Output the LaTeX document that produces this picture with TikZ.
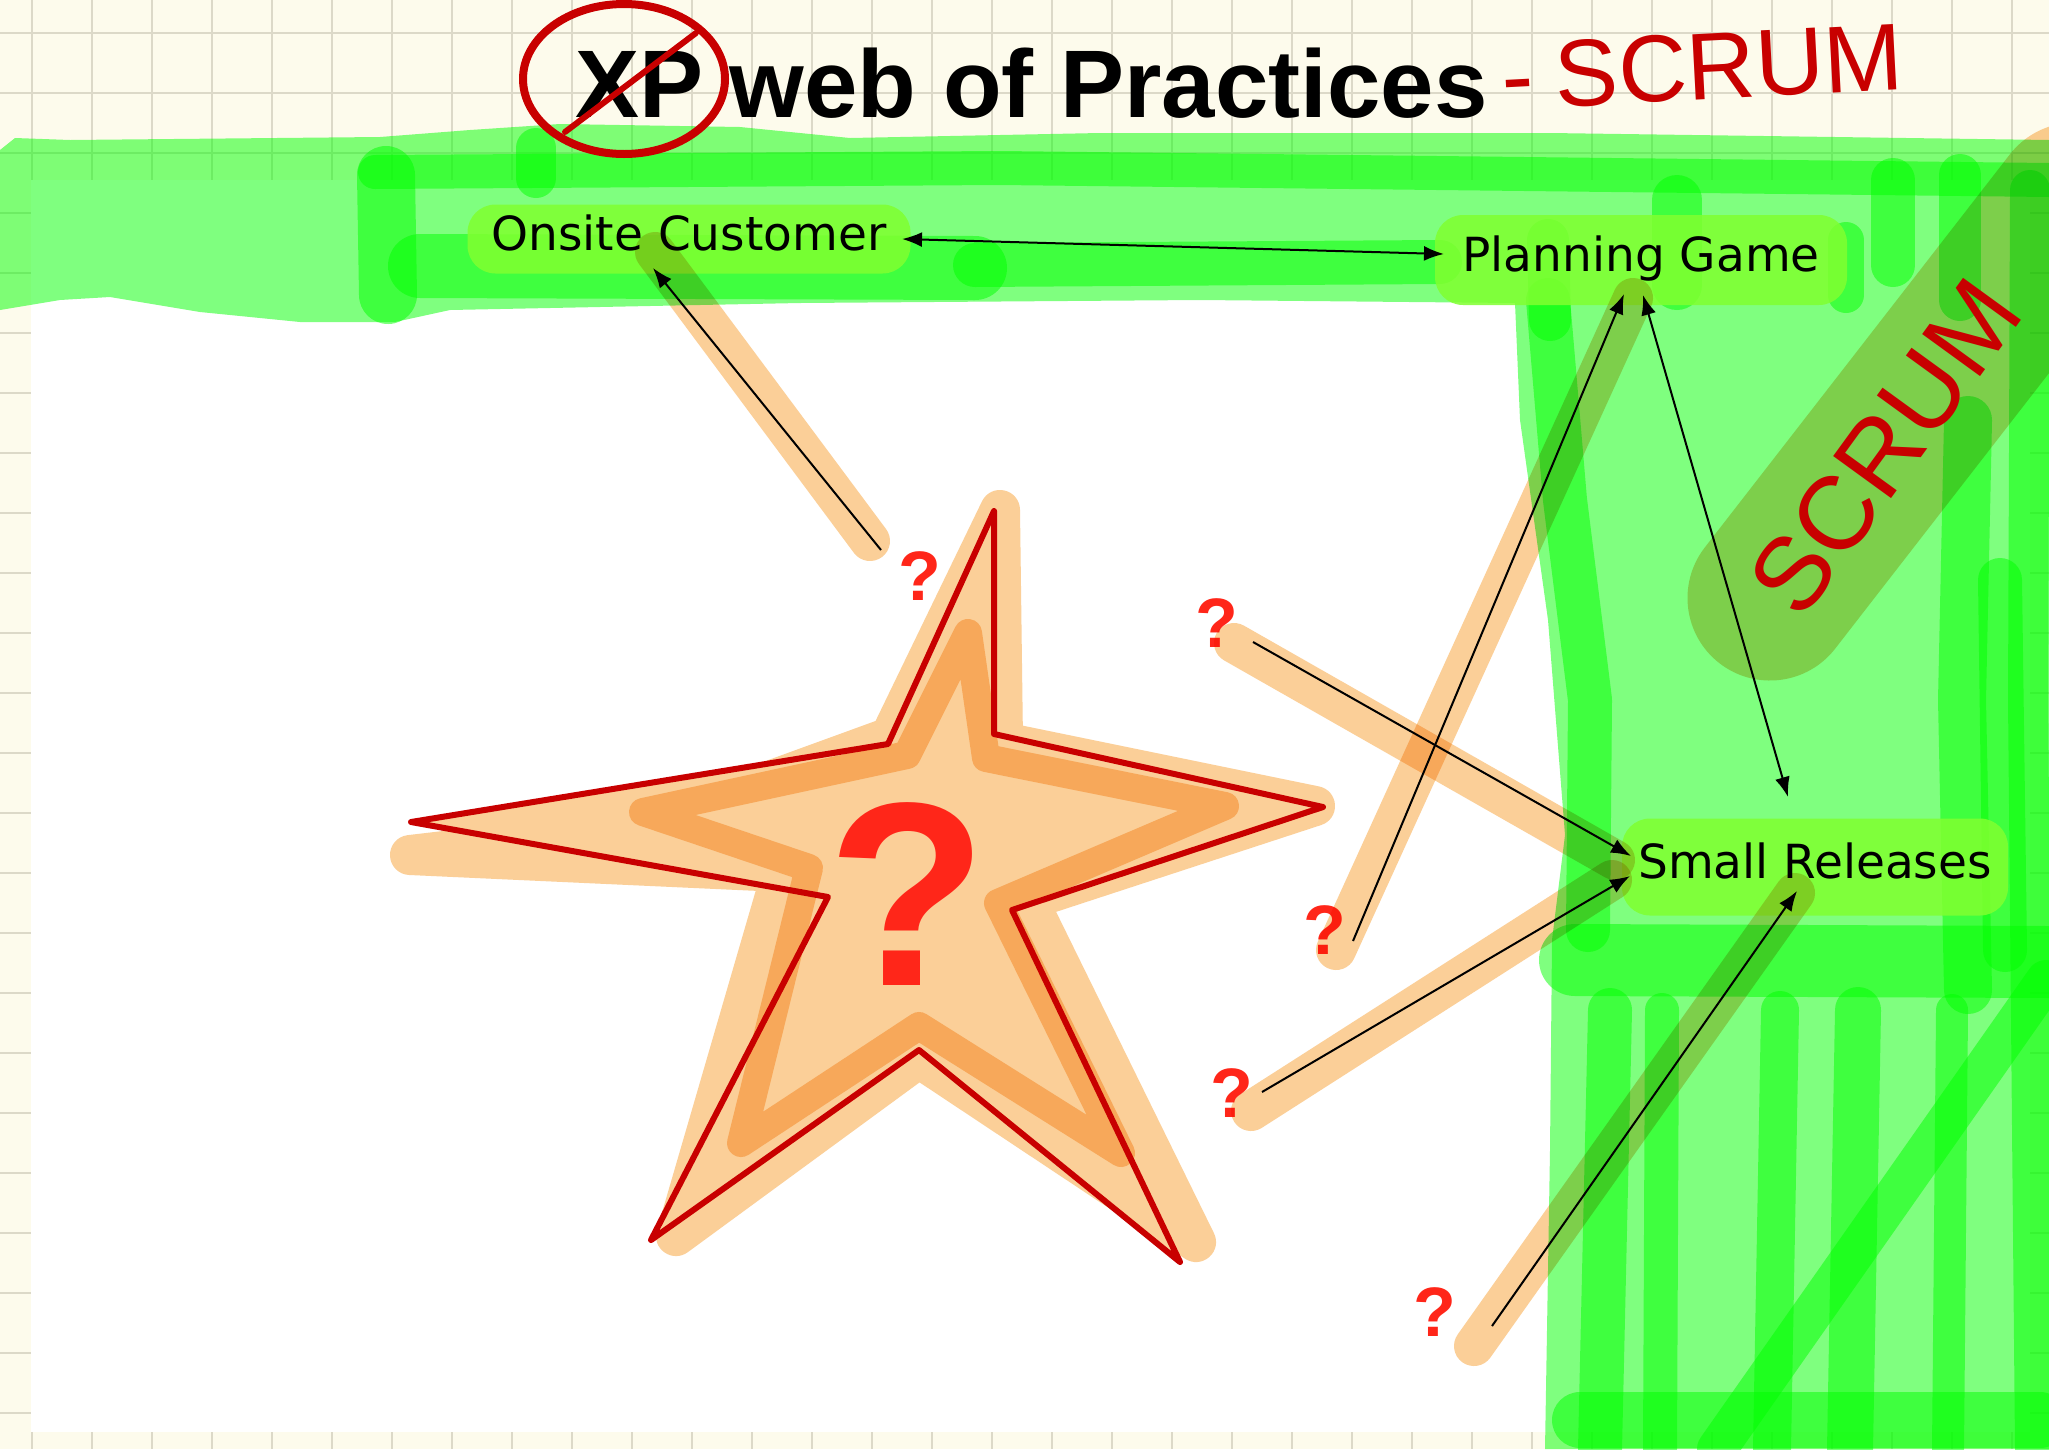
\documentclass[tikz,border=0pt]{standalone}
\usepackage{fontspec}
\setmainfont{Liberation Sans}
\newfontfamily\handfont{DejaVu Sans}
\usetikzlibrary{arrows.meta, calc}
\definecolor{paper}{RGB}{253,251,236}
\definecolor{gridline}{RGB}{220,217,200}
\definecolor{mgreen}{RGB}{0,255,0}
\definecolor{peach}{RGB}{251,207,152}
\definecolor{inkred}{RGB}{200,0,0}
\definecolor{qred}{RGB}{255,38,25}
\definecolor{hilite}{RGB}{128,255,48}

\begin{document}
\begin{tikzpicture}[
    x=1pt, y=-1pt,
    greenstroke/.style={draw=mgreen, draw opacity=0.5, line cap=round, line join=round},
    highlighter/.style={draw=peach, line width=40pt, line cap=round},
    practice/.style={fill=hilite, fill opacity=0.85, text opacity=1, rounded corners=28pt, font=\handfont\fontsize{47}{50}\selectfont, text height=35pt, text depth=12pt, inner sep=0pt},
    qmark/.style={text=qred, font=\bfseries\fontsize{70}{70}\selectfont, text height=51pt, text depth=0pt, inner sep=0pt},
    link/.style={-{Latex[length=20pt, width=15pt]}, line width=2pt},
    linkboth/.style={{Latex[length=20pt, width=15pt]}-{Latex[length=20pt, width=15pt]}, line width=2pt},
    inkline/.style={draw=inkred, line cap=round, line join=round}
]
    \useasboundingbox (0,0) rectangle (2049,1449);
    \fill[paper] (0,0) rectangle (2049,1449);
    \foreach \gx in {32,92,...,2049} \draw[gridline, line width=1.5pt] (\gx,0) -- (\gx,1449);
    \foreach \gy in {33,93,...,1449} \draw[gridline, line width=2.5pt] (0,\gy) -- (2049,\gy);
    \fill[white] (31,180) rectangle (2030,1432);

    % green marker: top band and right column
    \fill[mgreen, fill opacity=0.5] (0,150) -- (15,138) -- (70,140) -- (380,137) -- (470,130) -- (560,124) -- (740,127) -- (850,138) -- (1100,133) -- (1550,133) -- (2049,140) -- (2049,1449) -- (1545,1449) -- (1550,1150) -- (1552,940) -- (1565,835) -- (1548,620) -- (1520,420) -- (1515,303) -- (1200,300) -- (800,303) -- (450,310) -- (395,322) -- (300,322) -- (200,312) -- (110,297) -- (60,300) -- (0,310) -- cycle;
    \draw[greenstroke, line width=34] (375,172) -- (1000,168) -- (2049,180);
    \draw[greenstroke, line width=58] (386,175) -- (388,295);
    \draw[greenstroke, line width=40] (536,148) -- (536,178);
    \draw[greenstroke, line width=64] (420,266) -- (975,268);
    \draw[greenstroke, line width=44] (975,265) -- (1440,262);
    \draw[greenstroke, line width=42] (1548,240) -- (1550,320);
    \draw[greenstroke, line width=50] (1677,200) -- (1677,285);
    \draw[greenstroke, line width=36] (1846,240) -- (1846,295);
    \draw[greenstroke, line width=44] (1893,180) -- (1893,265);
    \draw[greenstroke, line width=42] (1960,175) -- (1960,300);
    \draw[greenstroke, line width=40] (2030,190) -- (2028,700) -- (2035,1449);
    \draw[greenstroke, line width=48] (1968,420) -- (1962,700) -- (1968,990);
    \draw[greenstroke, line width=44] (2000,580) -- (2005,950);
    \draw[greenstroke, line width=44] (1548,300) -- (1565,500) -- (1590,700) -- (1588,930);
    \draw[greenstroke, line width=72] (1575,960) -- (2049,962);
    \draw[greenstroke, line width=44] (1610,1010) -- (1600,1449);
    \draw[greenstroke, line width=34] (1662,1010) -- (1660,1449);
    \draw[greenstroke, line width=38] (1780,1010) -- (1772,1449);
    \draw[greenstroke, line width=46] (1858,1010) -- (1850,1449);
    \draw[greenstroke, line width=32] (1952,1010) -- (1948,1449);
    \draw[greenstroke, line width=40] (2046,980) -- (1717,1449);
    \draw[greenstroke, line width=56] (1580,1420) -- (2040,1420);

    % star
    \filldraw[fill=peach, draw=peach, line width=40, line join=round] (1000,510) -- (1003,742) -- (1315,806) -- (1028,900) -- (1196,1242) -- (919,1058) -- (676,1236) -- (782,872) -- (410,855) -- (640,828) -- (890,737) -- cycle;
    \fill[peach] (994,511) -- (994,734) -- (1323,807) -- (1012,910) -- (1180,1262) -- (919,1050) -- (651,1240) -- (828,897) -- (411,822) -- (888,744) -- cycle;
    \begin{scope}[blend mode=multiply]
        \draw[peach, line width=28, line join=round] (968,633) -- (986,758) -- (1225,806) -- (998,903) -- (1121,1153) -- (919,1026) -- (741,1143) -- (809,868) -- (643,812) -- (907,755) -- cycle;
    \end{scope}
    \draw[inkline, line width=6] (994,511) -- (994,734) -- (1323,807) -- (1012,910) -- (1180,1262) -- (919,1050) -- (651,1240) -- (828,897) -- (411,822) -- (888,744) -- cycle;

    \node[practice, minimum width=443, minimum height=69] (oc) at (689,239) {Onsite Customer};
    \node[practice, minimum width=412, minimum height=90] (pg) at (1641,260) {Planning Game};
    \node[practice, minimum width=386, minimum height=97] (sr) at (1815,867) {Small Releases};

    \node[qmark] (q1) at (920,575) {?};
    \node[qmark] (q2) at (1217,622) {?};
    \node[qmark] (q3) at (1325,929) {?};
    \node[qmark] (q4) at (1232,1092) {?};
    \node[qmark] (q5) at (1435,1311) {?};
    \node[qmark, font=\bfseries\fontsize{262}{262}\selectfont, text height=191pt] (qbig) at (908,890) {?};

    \begin{scope}[blend mode=multiply]
        \draw[highlighter] ($(q1)+(-50,-34)$) -- ($(oc)+(-34,13)$);
        \draw[highlighter] ($(q3)+(11,21)$) -- ($(pg)+(-8,38)$);
        \draw[highlighter] ($(q2)+(17,21)$) -- ($(sr)+(-200,-7)$);
        \draw[highlighter] ($(q4)+(19,19)$) -- ($(sr)+(-203,13)$);
        \draw[highlighter] ($(q5)+(39,35)$) -- ($(sr)+(-20,26)$);
        \draw[highlighter, line width=165] (1770,598) -- (2075,205);
    \end{scope}

    \draw[link] ($(q1)+(-39,-25)$) -- ($(oc)+(-36,29)$);
    \draw[link] ($(q3)+(28,12)$) -- ($(pg)+(-17,34)$);
    \draw[link] ($(q2)+(36,20)$) -- ($(sr)+(-184,-11)$);
    \draw[link] ($(q4)+(30,0)$) -- ($(sr)+(-185,9)$);
    \draw[link] ($(q5)+(57,15)$) -- ($(sr)+(-18,24)$);
    \draw[linkboth] ($(pg)+(2,35)$) -- ($(sr)+(-27,-70)$);
    \draw[linkboth] ($(oc)+(213,0)$) -- ($(pg)+(-197,-6)$);

    \node[anchor=base west, inner sep=0pt, font=\bfseries\fontsize{96}{96}\selectfont] (title) at (575,117) {XP web of Practices};
    \draw[inkline, line width=8] (624,79) ellipse [x radius=101, y radius=75];
    \draw[inkline, line width=6] (565,132) -- (696,33);
    \node[anchor=base west, inner sep=0pt, rotate=3, text=inkred, font=\fontsize{95}{95}\selectfont] (minus) at (1503,110) {-\kern22pt SCRUM};
    \node[inner sep=0pt, rotate=54, text=inkred, font=\fontsize{104}{104}\selectfont] (scrum) at (1885,447) {SCRUM};
\end{tikzpicture}
\end{document}
